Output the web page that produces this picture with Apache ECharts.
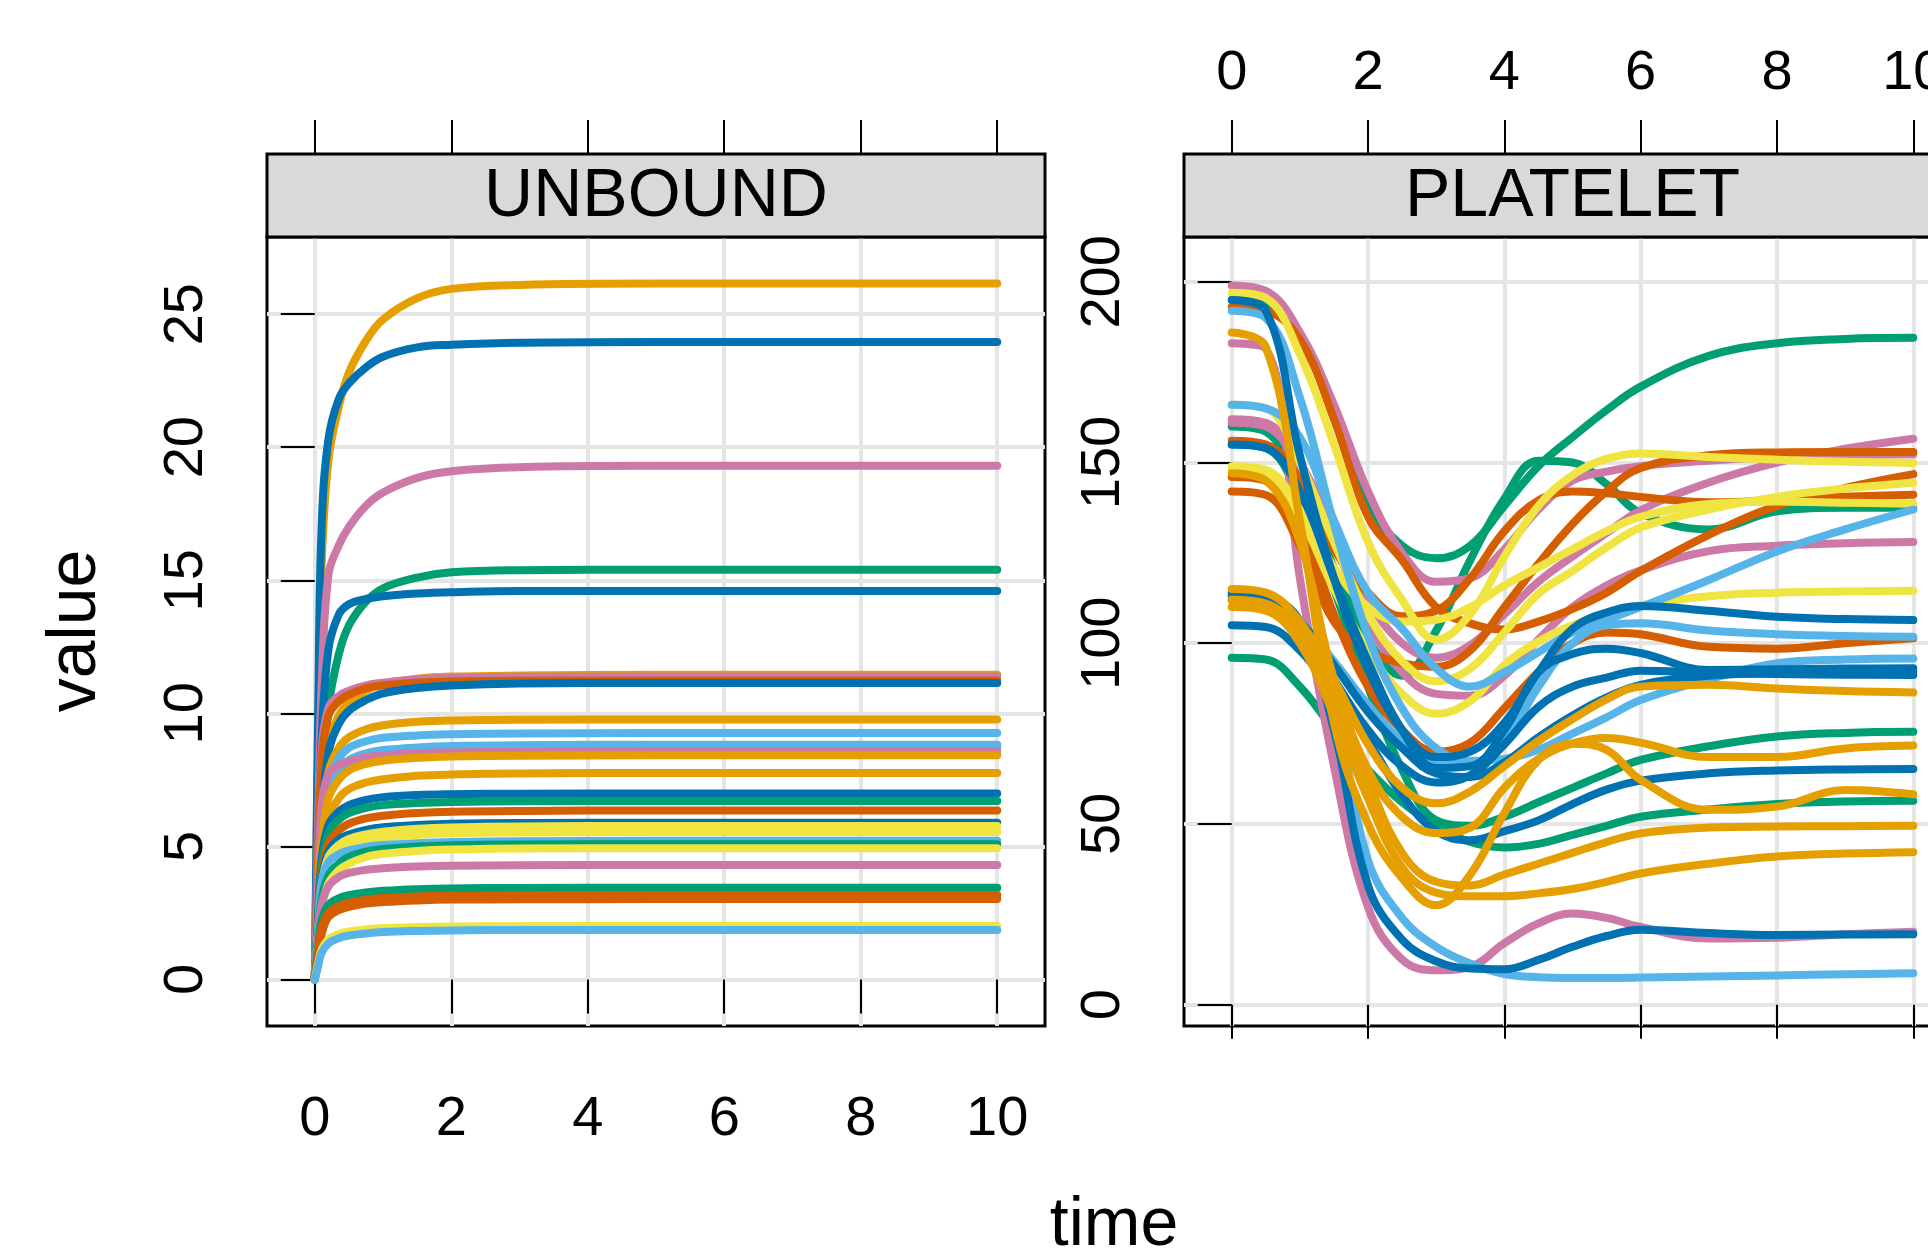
<!DOCTYPE html>
<html>
<head>
<meta charset="utf-8">
<script src="https://cdn.jsdelivr.net/npm/echarts@6/dist/echarts.min.js"></script>
<style>
  html, body { margin: 0; padding: 0; background: #fff; }
  #chart { width: 1928px; height: 1257px; }
</style>
</head>
<body>
<div id="chart"></div>
<script>
// ---------------- DATA ----------------
const panelTitles = ['UNBOUND', 'PLATELET'];
const xTicks = [0, 2, 4, 6, 8, 10];
const unboundTicks = [0, 5, 10, 15, 20, 25];
const plateletTicks = [0, 50, 100, 150, 200];

const unboundTime = [0, 0.05, 0.1, 0.2, 0.35, 0.5, 0.75, 1, 1.5, 2, 3, 5, 10];
const unboundValues = [
  [0, 9, 15.5, 19.5, 21.5, 22.8, 24.0, 24.8, 25.6, 25.95, 26.1, 26.15, 26.15],
  [0, 10, 17, 20.3, 21.8, 22.4, 23.0, 23.4, 23.75, 23.85, 23.93, 23.95, 23.95],
  [0, 6, 11, 15.2, 16.3, 17.0, 17.8, 18.3, 18.85, 19.1, 19.25, 19.3, 19.3],
  [0, 3.5, 6.5, 10.2, 12.2, 13.3, 14.2, 14.7, 15.1, 15.3, 15.38, 15.4, 15.4],
  [0, 5, 9, 12.4, 13.7, 14.1, 14.3, 14.4, 14.5, 14.55, 14.6, 14.6, 14.6],
  [0, 3.5, 6.5, 8.8, 9.9, 10.4, 10.85, 11.1, 11.3, 11.38, 11.42, 11.45, 11.45],
  [0, 5, 8.5, 10.2, 10.65, 10.85, 11.05, 11.15, 11.28, 11.33, 11.37, 11.38, 11.38],
  [0, 4.5, 8, 9.9, 10.45, 10.7, 10.95, 11.05, 11.15, 11.2, 11.22, 11.22, 11.22],
  [0, 3, 6, 8.5, 9.6, 10.1, 10.5, 10.75, 10.95, 11.05, 11.12, 11.14, 11.14],
  [0, 3, 5.8, 7.8, 8.7, 9.1, 9.4, 9.55, 9.68, 9.73, 9.76, 9.77, 9.77],
  [0, 3, 5.8, 7.5, 8.3, 8.7, 8.95, 9.08, 9.17, 9.21, 9.24, 9.26, 9.26],
  [0, 3, 5.6, 7.2, 7.9, 8.25, 8.5, 8.62, 8.72, 8.77, 8.8, 8.82, 8.82],
  [0, 2.8, 5.4, 7.0, 7.75, 8.1, 8.4, 8.52, 8.62, 8.67, 8.7, 8.72, 8.72],
  [0, 3.5, 6.5, 7.7, 8.05, 8.2, 8.35, 8.42, 8.5, 8.53, 8.56, 8.57, 8.57],
  [0, 2.5, 5, 6.8, 7.5, 7.85, 8.1, 8.22, 8.33, 8.38, 8.41, 8.42, 8.42],
  [0, 2, 4.3, 6.0, 6.8, 7.15, 7.4, 7.52, 7.65, 7.7, 7.74, 7.76, 7.76],
  [0, 2.5, 4.5, 5.8, 6.3, 6.55, 6.75, 6.85, 6.93, 6.96, 6.98, 6.99, 6.99],
  [0, 2.2, 4.2, 5.5, 6.0, 6.25, 6.45, 6.55, 6.63, 6.67, 6.7, 6.71, 6.71],
  [0, 2, 3.9, 5.1, 5.6, 5.85, 6.05, 6.15, 6.25, 6.3, 6.33, 6.35, 6.35],
  [0, 2, 3.7, 4.8, 5.25, 5.45, 5.62, 5.72, 5.8, 5.85, 5.88, 5.89, 5.89],
  [0, 1.8, 3.5, 4.6, 5.05, 5.28, 5.45, 5.55, 5.66, 5.71, 5.75, 5.77, 5.77],
  [0, 1.7, 3.3, 4.4, 4.85, 5.05, 5.23, 5.33, 5.43, 5.49, 5.52, 5.54, 5.54],
  [0, 2, 3.6, 4.4, 4.7, 4.85, 4.98, 5.05, 5.12, 5.16, 5.19, 5.21, 5.21],
  [0, 1.6, 3.0, 3.9, 4.35, 4.6, 4.8, 4.9, 5.0, 5.04, 5.07, 5.08, 5.08],
  [0, 1.3, 2.6, 3.6, 4.1, 4.35, 4.6, 4.72, 4.83, 4.88, 4.92, 4.93, 4.93],
  [0, 1.5, 2.8, 3.5, 3.85, 4.0, 4.12, 4.18, 4.24, 4.27, 4.29, 4.3, 4.3],
  [0, 1.2, 2.2, 2.8, 3.05, 3.17, 3.27, 3.33, 3.39, 3.42, 3.44, 3.45, 3.45],
  [0, 1.0, 1.9, 2.5, 2.75, 2.88, 3.0, 3.06, 3.12, 3.15, 3.16, 3.17, 3.17],
  [0, 0.9, 1.7, 2.35, 2.6, 2.73, 2.85, 2.91, 2.97, 3.0, 3.01, 3.02, 3.02],
  [0, 0.6, 1.1, 1.5, 1.7, 1.8, 1.88, 1.93, 1.97, 1.99, 2.0, 2.01, 2.01],
  [0, 0.5, 1.0, 1.35, 1.55, 1.65, 1.73, 1.78, 1.82, 1.84, 1.86, 1.86, 1.86]
];
const unboundColors = ['orange','blue','pink','green','blue','orange','pink','verm','blue','orange',
  'sky','sky','sky','pink','orange','orange','blue','green','verm','blue',
  'yellow','yellow','sky','green','yellow','pink','green','verm','verm','yellow','sky'];

const plateletTime = [0, 0.5, 1, 1.5, 2, 2.5, 3, 3.5, 4, 4.5, 5, 5.5, 6, 7, 8, 9, 10];
const plateletValues = [
  [195, 193.5, 185, 165, 139, 127, 123.5, 127, 138, 149, 157, 164.5, 171, 179.5, 183, 184.2, 184.5],
  [160, 158.5, 143, 121, 101, 91, 103.5, 123, 140, 150.5, 150, 144, 136, 131.5, 136.5, 137.5, 137.5],
  [155, 154, 140, 115, 88, 65, 51, 49.5, 52, 56, 60, 64, 67.7, 71.5, 74.2, 75.2, 75.5],
  [96, 95.5, 88, 76, 65, 56, 49.5, 45, 43.5, 44.5, 47, 49.5, 52, 54, 55.5, 56.2, 56.4],
  [199, 197.5, 186, 166, 142, 125, 117, 118, 126, 137, 145, 147.5, 149, 150.5, 151.5, 152, 152.3],
  [161, 160, 148, 128, 106, 92, 86, 85.5, 91, 101, 110, 116, 120.2, 125.5, 127, 127.7, 128],
  [162, 161, 150, 131, 112, 100, 96, 99.5, 108, 117, 124, 130.5, 136.8, 144.5, 150, 153.8, 156.6],
  [183, 181.5, 118, 66, 27, 12.5, 9.5, 10.5, 17, 22.5, 25.2, 24, 21.5, 18.3, 18.5, 19.5, 20.2],
  [193, 192, 184, 162, 135, 123, 110, 105.5, 103.8, 106, 109.5, 114, 120, 130, 138, 143, 146.8],
  [156, 155, 145, 126, 114, 107.5, 109, 118, 131, 139.5, 142, 141.5, 140.5, 139, 139.5, 140.5, 141.1],
  [142, 141, 127, 106, 98, 94.5, 93.5, 98, 110, 122, 133, 142, 148.5, 152, 152.8, 152.9, 152.9],
  [146, 145, 133, 108, 88, 76, 70, 72.5, 82, 92, 100, 103, 102.5, 99, 98.5, 100, 101.4],
  [197, 195.5, 180, 155, 128, 112, 101, 108, 124, 138, 146.5, 151, 152.5, 151.5, 150.8, 150.2, 149.9],
  [166, 165, 150, 128, 108, 95, 89.5, 93, 103, 113.7, 120, 126.5, 132, 137, 140.5, 142.8, 144.4],
  [149, 148, 137, 121, 110, 106, 106.5, 110, 116, 121, 126, 131, 135, 138.5, 139.2, 138.9, 138.6],
  [148, 147, 135, 115, 98, 86, 80.5, 84, 94, 100.5, 105, 108, 110.5, 113, 114, 114.3, 114.5],
  [166, 165, 157, 134, 114, 104, 93, 88, 92, 97.5, 103, 106.5, 110, 117.5, 125.4, 131.5, 137],
  [192, 190, 168, 133, 102, 82, 71, 67.5, 68, 70.5, 75, 79.5, 84.3, 90, 94.5, 95.5, 95.8],
  [113, 112, 106, 95, 83, 73, 67, 67, 73, 88, 100, 105, 105.5, 103.5, 102.5, 102, 101.8],
  [113, 112, 106, 83, 40, 24, 16, 11.4, 8.5, 7.6, 7.4, 7.4, 7.5, 7.8, 8.1, 8.4, 8.7],
  [114, 113, 106, 76, 33, 18, 12, 10, 9.8, 12.4, 16, 19, 20.7, 19.8, 19.3, 19.4, 19.5],
  [105, 104.5, 98, 86, 73, 58, 48, 45.5, 48, 51, 55.5, 59.5, 62, 64, 64.8, 65.1, 65.2],
  [195, 192, 152, 118, 93, 76, 68.5, 70, 78, 92, 104, 108.5, 110.3, 109, 107.3, 106.7, 106.4],
  [155, 154, 142, 118, 95, 76, 65.5, 66, 76, 92, 97, 98.5, 97.3, 92.6, 92.8, 93, 93.1],
  [113.5, 113, 106, 94, 81, 71, 64, 63, 67, 74, 80, 85, 88.5, 91, 91.8, 92, 92.1],
  [112, 111.5, 104, 90, 76, 66, 61.5, 63.5, 72, 82.4, 88, 90.5, 92.4, 91.8, 91.5, 91.3, 91.2],
  [186, 182, 134, 78, 50, 35, 27.5, 36, 53, 67.7, 72.2, 70.5, 62.2, 53.9, 54.8, 59.4, 58.2],
  [147, 145, 128, 90, 65, 52, 47.5, 49, 60, 68, 72.3, 73.8, 72.5, 68.5, 68.5, 70.9, 71.7],
  [115, 114, 106, 90, 72, 60, 55.7, 59, 66, 73, 79, 84.5, 88, 88.5, 87.5, 86.8, 86.4],
  [112, 111, 103, 85, 62, 42, 34, 33, 36, 39, 42, 45, 47.4, 49, 49.3, 49.4, 49.5],
  [110, 109, 100, 80, 57, 38, 31, 30, 30, 30.8, 32, 34, 36.3, 39, 41, 41.8, 42.2]
];
const plateletColors = ['green','green','green','green','pink','pink','pink','pink','verm','verm',
  'verm','verm','yellow','yellow','yellow','yellow','sky','sky','sky','sky',
  'blue','blue','blue','blue','blue','blue','orange','orange','orange','orange','orange'];

// ---------------- STYLE / LAYOUT ----------------
const PALETTE = { orange:'#E69F00', sky:'#56B4E9', green:'#009E73', yellow:'#F0E442',
                  blue:'#0072B2', verm:'#D55E00', pink:'#CC79A7' };
const FONT = '"Liberation Sans", Arial, Helvetica, sans-serif';
const TICK_FS = 56, TITLE_FS = 68;
const GRIDS = [
  { left: 267, top: 237, width: 778, height: 789 },
  { left: 1184, top: 237, width: 777, height: 789 }
];
const STRIP_H = 83;
const X_RANGE = [-0.7, 10.7];
const Y_RANGES = [[-1.75, 27.9], [-5.9, 212.4]];

function xAxis(gridIndex, position, showLabel, showSplit) {
  return {
    type: 'value', gridIndex, position,
    offset: position === 'top' ? STRIP_H : 0,
    min: X_RANGE[0], max: X_RANGE[1],
    axisLine: { show: false },
    axisTick: { show: true, inside: false, length: 34, customValues: xTicks,
                lineStyle: { color: '#000', width: 2 } },
    axisLabel: { show: showLabel, customValues: xTicks,
                 margin: position === 'top' ? 52 : 66,
                 fontSize: TICK_FS, color: '#000', fontFamily: FONT },
    splitLine: { show: showSplit, lineStyle: { color: '#E5E5E5', width: 4 } }
  };
}
function yAxis(gridIndex, range, ticks) {
  return {
    type: 'value', gridIndex, position: 'left',
    min: range[0], max: range[1],
    axisLine: { show: false },
    axisTick: { show: true, inside: false, length: 34, customValues: ticks,
                lineStyle: { color: '#000', width: 2 } },
    axisLabel: { show: true, customValues: ticks, margin: 52, rotate: 90,
                 fontSize: TICK_FS, color: '#000', fontFamily: FONT },
    splitLine: { show: true, lineStyle: { color: '#E5E5E5', width: 4 } }
  };
}

const series = [];
function addSeries(times, valuesList, colors, xIdx, yIdx) {
  valuesList.forEach((vals, i) => {
    series.push({
      type: 'line', xAxisIndex: xIdx, yAxisIndex: yIdx,
      data: times.map((t, j) => [t, vals[j]]),
      smooth: 0.4,
      showSymbol: false, symbol: 'none', silent: true,
      lineStyle: { color: PALETTE[colors[i]], width: 8, cap: 'round', join: 'round' },
      z: 3
    });
  });
}
addSeries(unboundTime, unboundValues, unboundColors, 0, 0);
addSeries(plateletTime, plateletValues, plateletColors, 2, 1);

const graphic = [];
GRIDS.forEach((g, i) => {
  graphic.push({
    type: 'rect', z: 5,
    shape: { x: g.left, y: g.top - STRIP_H, width: g.width, height: STRIP_H },
    style: { fill: '#D9D9D9', stroke: '#000', lineWidth: 3 }
  });
  graphic.push({
    type: 'text', z: 6,
    x: g.left + g.width / 2, y: g.top - STRIP_H / 2 + 2,
    style: { text: panelTitles[i], font: TITLE_FS + 'px ' + FONT, fill: '#000',
             align: 'center', verticalAlign: 'middle' }
  });
});
graphic.push({
  type: 'text', z: 6, x: 76, y: 631, rotation: Math.PI / 2,
  style: { text: 'value', font: TITLE_FS + 'px ' + FONT, fill: '#000',
           align: 'center', verticalAlign: 'middle' }
});
graphic.push({
  type: 'text', z: 6, x: 1114, y: 1226,
  style: { text: 'time', font: TITLE_FS + 'px ' + FONT, fill: '#000',
           align: 'center', verticalAlign: 'middle' }
});

const option = {
  animation: false,
  backgroundColor: '#fff',
  grid: GRIDS.map(g => Object.assign({ show: true, borderColor: '#000', borderWidth: 3,
                                        backgroundColor: 'transparent', containLabel: false,
                                        outerBoundsMode: 'none' }, g)),
  xAxis: [
    xAxis(0, 'bottom', true, true),
    xAxis(0, 'top', false, false),
    xAxis(1, 'bottom', false, true),
    xAxis(1, 'top', true, false)
  ],
  yAxis: [
    yAxis(0, Y_RANGES[0], unboundTicks),
    yAxis(1, Y_RANGES[1], plateletTicks)
  ],
  series,
  graphic
};

const chart = echarts.init(document.getElementById('chart'), null, { renderer: 'canvas' });
chart.setOption(option);
</script>
</body>
</html>
